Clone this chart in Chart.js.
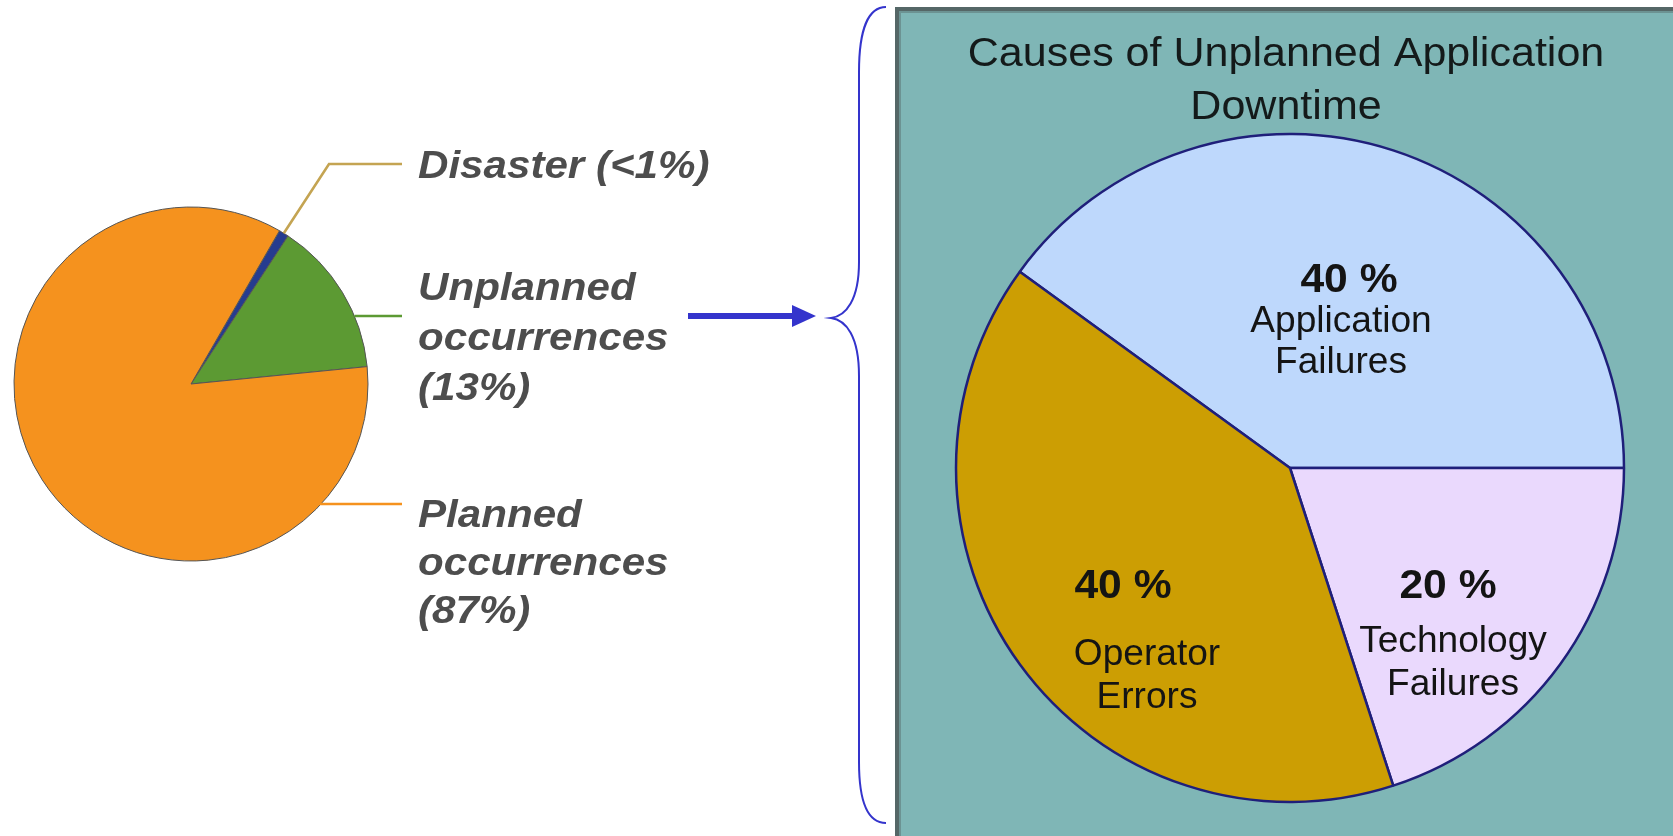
<!DOCTYPE html>
<html>
<head>
<meta charset="utf-8">
<script src="https://cdn.jsdelivr.net/npm/chart.js@4.4.1/dist/chart.umd.min.js"></script>
<style>
  html, body { margin: 0; padding: 0; background: #ffffff; }
  #wrap { position: relative; width: 1673px; height: 836px; overflow: hidden; }
  canvas { position: absolute; left: 0; top: 0; }
</style>
</head>
<body>
<div id="wrap">
  <canvas id="left" width="1673" height="836"></canvas>
  <canvas id="right" width="1673" height="836"></canvas>
</div>
<script>
// ---- Data: overall downtime (left pie) ----
const downtimeCategories = ['Disaster', 'Unplanned occurrences', 'Planned occurrences'];
const downtimeValues = [0.9, 14.2, 84.9];           // as drawn in the picture
const downtimeLabelLines = [
  ['Disaster (<1%)'],
  ['Unplanned', 'occurrences', '(13%)'],
  ['Planned', 'occurrences', '(87%)']
];

// ---- Data: causes of unplanned downtime (right pie) ----
const causeCategories = ['Application Failures', 'Technology Failures', 'Operator Errors'];
const causeValues = [40, 20, 40];
const causePercentLabels = ['40 %', '20 %', '40 %'];
const causeLabelLines = [['Application', 'Failures'], ['Technology', 'Failures'], ['Operator', 'Errors']];
const rightTitle = ['Causes of Unplanned Application', 'Downtime'];

function drawText(ctx, text, x, y, font, color, align, sx) {
  ctx.save();
  ctx.font = font;
  ctx.fillStyle = color;
  ctx.textAlign = align;
  ctx.textBaseline = 'alphabetic';
  ctx.translate(x, y);
  ctx.scale(sx, 1);
  ctx.fillText(text, 0, 0);
  ctx.restore();
}

// ---------- Left chart ----------
const leftColors = ['#263c8f', '#5c9a33', '#f5921e'];
const leaderColors = ['#c4a452', '#5c9a33', '#f5921e'];

const leftDecor = {
  id: 'leftDecor',
  afterDatasetsDraw(chart) {
    const ctx = chart.ctx;
    const arcs = chart.getDatasetMeta(0).data;
    const a0 = arcs[0];
    const cx = a0.x, cy = a0.y, r = a0.outerRadius;
    ctx.save();
    ctx.lineWidth = 2.6;
    // disaster leader
    const mid = (a0.startAngle + a0.endAngle) / 2;
    ctx.strokeStyle = leaderColors[0];
    ctx.beginPath();
    ctx.moveTo(cx + r * Math.cos(mid), cy + r * Math.sin(mid));
    ctx.lineTo(329, 164);
    ctx.lineTo(402, 164);
    ctx.stroke();
    // unplanned leader (horizontal)
    let yy = 316;
    ctx.strokeStyle = leaderColors[1];
    ctx.beginPath();
    ctx.moveTo(cx + Math.sqrt(r * r - (yy - cy) * (yy - cy)), yy);
    ctx.lineTo(402, yy);
    ctx.stroke();
    // planned leader
    yy = 504;
    ctx.strokeStyle = leaderColors[2];
    ctx.beginPath();
    ctx.moveTo(cx + Math.sqrt(r * r - (yy - cy) * (yy - cy)) - 2, yy);
    ctx.lineTo(402, yy);
    ctx.stroke();
    ctx.restore();

    // labels
    const font = 'italic bold 39px "Liberation Sans", Arial, sans-serif';
    const col = '#4d4d4d';
    const baselines = [[178], [300, 350, 400], [527, 575, 623]];
    downtimeLabelLines.forEach((lines, i) => {
      lines.forEach((t, j) => drawText(ctx, t, 418, baselines[i][j], font, col, 'left', 1.08));
    });

    // arrow
    ctx.save();
    ctx.fillStyle = '#3434cc';
    ctx.fillRect(688, 313, 106, 6);
    ctx.beginPath();
    ctx.moveTo(792, 305);
    ctx.lineTo(816, 316);
    ctx.lineTo(792, 327);
    ctx.closePath();
    ctx.fill();
    // brace
    ctx.strokeStyle = '#3434cc';
    ctx.lineWidth = 2;
    ctx.beginPath();
    ctx.moveTo(886, 7);
    ctx.bezierCurveTo(869, 7, 859, 28, 859, 72);
    ctx.lineTo(859, 262);
    ctx.bezierCurveTo(859, 300, 846, 316, 831, 318);
    ctx.bezierCurveTo(846, 320, 859, 336, 859, 376);
    ctx.lineTo(859, 762);
    ctx.bezierCurveTo(859, 806, 869, 823, 886, 823);
    ctx.stroke();
    ctx.restore();
  }
};

new Chart(document.getElementById('left'), {
  type: 'pie',
  data: {
    labels: downtimeCategories,
    datasets: [{
      data: downtimeValues,
      backgroundColor: leftColors,
      borderColor: '#555555',
      borderWidth: 1
    }]
  },
  options: {
    responsive: false,
    animation: false,
    events: [],
    rotation: 30,
    radius: 177,
    layout: { padding: { left: 14, top: 207, right: 1305, bottom: 275 } },
    plugins: { legend: { display: false }, tooltip: { enabled: false }, title: { display: false } }
  },
  plugins: [leftDecor]
});

// ---------- Right chart ----------
const rightColors = ['#bed8fc', '#ead9fd', '#cc9e03'];

const rightDecor = {
  id: 'rightDecor',
  beforeDraw(chart) {
    const ctx = chart.ctx;
    ctx.save();
    ctx.fillStyle = '#7fb6b6';
    ctx.fillRect(895, 7, 778, 829);
    ctx.fillStyle = '#556767';
    ctx.fillRect(895, 7, 4, 829);
    ctx.fillRect(895, 7, 778, 4);
    ctx.fillStyle = '#6c9393';
    ctx.fillRect(899, 11, 2, 825);
    ctx.fillRect(899, 11, 774, 2);
    ctx.restore();
    const tf = '41px "Liberation Sans", Arial, sans-serif';
    drawText(ctx, rightTitle[0], 1286, 66, tf, '#141a1a', 'center', 1.05);
    drawText(ctx, rightTitle[1], 1286, 119, tf, '#141a1a', 'center', 1.05);
  },
  afterDatasetsDraw(chart) {
    const ctx = chart.ctx;
    const pf = 'bold 41px "Liberation Sans", Arial, sans-serif';
    const lf = '36px "Liberation Sans", Arial, sans-serif';
    const c = '#141414';
    // [percent x, percent baseline, line x, line baselines]
    const pos = [
      [1349, 292, 1341, [332, 373]],
      [1448, 598, 1453, [652, 695]],
      [1123, 598, 1147, [665, 708]]
    ];
    causeCategories.forEach((_, i) => {
      const p = pos[i];
      drawText(ctx, causePercentLabels[i], p[0], p[1], pf, c, 'center', 1.04);
      causeLabelLines[i].forEach((t, j) => drawText(ctx, t, p[2], p[3][j], lf, c, 'center', 1.03));
    });
  }
};

new Chart(document.getElementById('right'), {
  type: 'pie',
  data: {
    labels: causeCategories,
    datasets: [{
      data: causeValues,
      backgroundColor: rightColors,
      borderColor: '#1f1f7a',
      borderWidth: 2.5
    }]
  },
  options: {
    responsive: false,
    animation: false,
    events: [],
    rotation: -54,
    radius: 334,
    layout: { padding: { left: 954, top: 134, right: 47, bottom: 34 } },
    plugins: { legend: { display: false }, tooltip: { enabled: false }, title: { display: false } }
  },
  plugins: [rightDecor]
});
</script>
</body>
</html>
